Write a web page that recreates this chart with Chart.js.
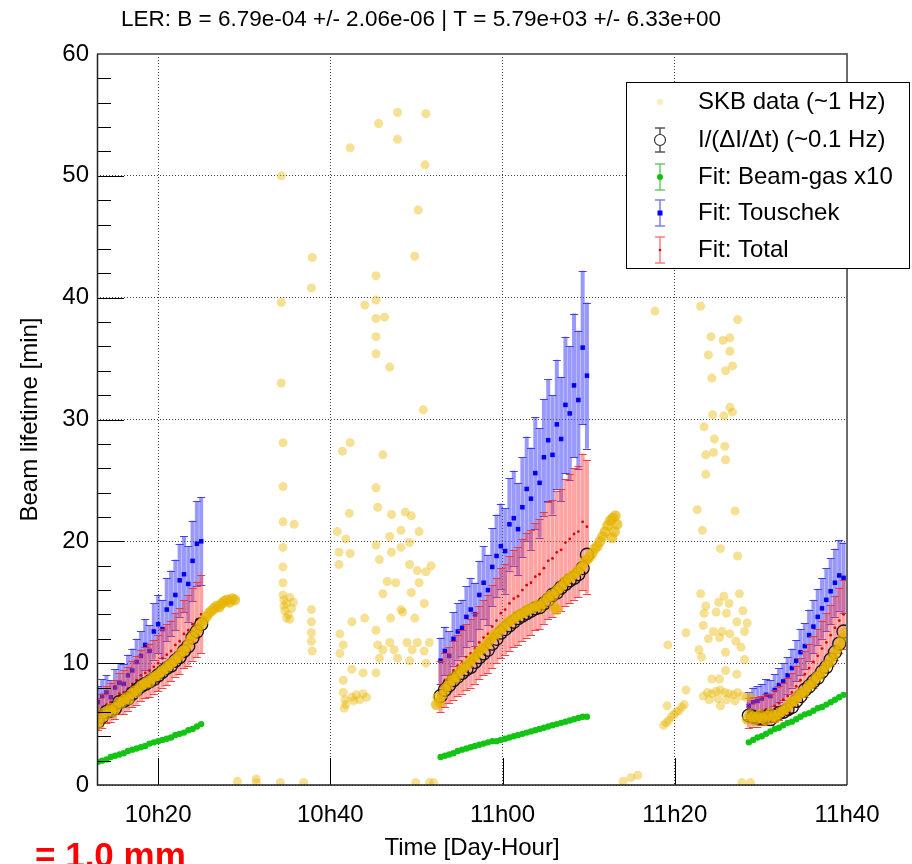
<!DOCTYPE html>
<html>
<head>
<meta charset="utf-8">
<script src="https://cdn.jsdelivr.net/npm/chart.js@4.4.1/dist/chart.umd.min.js"></script>
<style>
  html, body { margin: 0; padding: 0; background: #fff; }
  #wrap { width: 912px; height: 864px; position: relative; }
</style>
</head>
<body>
<div id="wrap"><canvas id="c"></canvas></div>
<script>
/* LER beam lifetime vs time — SKB data, measured lifetime and fit components */

const FONT = "'Liberation Sans', Arial, Helvetica, sans-serif";

// axis ticks (time in minutes after 10h00)
const xTickValues = [20, 40, 60, 80, 100];
const xTickLabels = ['10h20', '10h40', '11h00', '11h20', '11h40'];
const yTickValues = [0, 10, 20, 30, 40, 50, 60];

// fit / measurement samples, three fill periods
const fitTime = [
  13.0,13.5,14.0,14.5,15.0,15.5,16.0,16.5,17.0,17.5,18.0,18.5,19.0,19.5,20.0,20.5,21.0,21.5,22.0,22.5,23.0,23.5,24.0,24.5,25.0,
  52.8,53.3,53.8,54.3,54.8,55.3,55.8,56.3,56.8,57.3,57.8,58.3,58.8,59.3,59.8,60.3,60.8,61.3,61.8,62.3,62.8,63.3,63.8,64.3,64.8,65.3,65.8,66.3,66.8,67.3,67.8,68.3,68.8,69.3,69.8,
  88.6,89.1,89.6,90.1,90.6,91.1,91.6,92.1,92.6,93.1,93.6,94.1,94.6,95.1,95.6,96.1,96.6,97.1,97.6,98.1,98.6,99.1,99.6
];
const measLife = [
  5.2,5.6,6.0,6.1,6.3,6.8,6.9,7.1,7.5,7.8,8.1,8.3,8.5,8.7,9.0,9.3,9.6,9.8,10.2,10.5,11.0,11.4,12.1,12.6,13.2,
  7.3,7.8,8.2,8.6,8.9,9.2,9.5,9.7,10.1,10.5,10.8,11.1,11.6,12.0,12.5,12.8,13.1,13.4,13.7,13.9,14.1,14.3,14.5,14.6,14.9,15.2,15.6,15.8,16.2,16.5,16.8,17.0,17.3,17.8,18.9,
  5.7,5.6,5.5,5.5,5.6,5.4,5.7,5.9,6.0,6.2,6.4,6.9,7.3,7.8,8.1,8.5,8.8,9.3,9.7,10.3,10.9,11.6,12.6
];
const gasX10 = [
  1.9,2.0,2.1,2.3,2.4,2.5,2.6,2.8,2.9,3.0,3.1,3.2,3.4,3.5,3.6,3.7,3.8,3.9,4.1,4.2,4.3,4.5,4.6,4.8,5.0,
  2.3,2.4,2.5,2.6,2.8,2.9,3.0,3.1,3.2,3.3,3.4,3.5,3.6,3.6,3.7,3.8,3.9,4.0,4.1,4.2,4.3,4.4,4.5,4.6,4.7,4.8,4.9,5.0,5.1,5.2,5.3,5.4,5.5,5.6,5.6,
  3.5,3.7,3.9,4.0,4.2,4.4,4.6,4.7,4.9,5.1,5.2,5.4,5.6,5.8,5.9,6.1,6.3,6.4,6.6,6.8,7.0,7.2,7.4
];
const touschek = [
  6.8,7.3,7.6,7.2,8.0,8.4,8.3,9.0,9.4,10.1,10.6,11.5,11.0,12.6,13.2,12.8,14.4,14.9,15.6,16.8,17.3,16.5,18.4,19.8,20.0,
  10.2,11.0,10.6,12.0,12.6,12.9,13.8,14.4,14.0,15.6,16.6,16.0,17.9,18.8,19.6,19.2,21.4,21.9,21.0,22.8,24.3,23.5,25.6,24.8,26.9,28.3,27.1,29.6,28.4,31.2,30.5,32.8,31.6,35.9,33.6,
  6.5,6.8,6.9,7.1,7.4,7.3,7.8,8.2,8.5,9.0,9.6,10.2,10.9,11.4,12.3,13.0,13.8,14.5,15.2,15.9,16.6,17.2,17.0
];
const touschekErr = [
  1.3,1.4,1.4,1.4,1.5,1.6,1.6,1.7,1.8,1.9,2.0,2.1,2.1,2.3,2.4,2.4,2.6,2.7,2.9,3.0,3.1,3.1,3.3,3.5,3.6,
  1.9,2.0,2.0,2.2,2.3,2.3,2.5,2.6,2.6,2.8,3.0,2.9,3.2,3.4,3.5,3.5,3.8,3.9,3.8,4.1,4.3,4.2,4.6,4.5,4.8,5.0,4.9,5.3,5.1,5.6,5.5,5.9,5.7,6.3,6.0,
  1.1,1.2,1.2,1.2,1.3,1.3,1.3,1.4,1.5,1.5,1.6,1.7,1.9,1.9,2.1,2.2,2.3,2.5,2.6,2.7,2.8,2.9,2.9
];
const total = [
  5.8,6.1,6.6,6.8,7.0,7.5,7.6,7.9,8.3,8.6,9.0,9.2,9.4,9.7,10.0,10.4,10.7,11.0,11.5,11.8,12.4,12.7,13.2,13.6,14.0,
  8.1,8.6,9.0,9.4,9.8,10.1,10.5,10.8,11.2,11.7,12.1,12.4,13.0,13.5,14.1,14.4,14.9,15.3,15.5,16.0,16.4,16.6,17.1,17.3,17.8,18.4,18.6,19.1,19.3,19.9,20.2,20.6,20.8,21.6,21.2,
  5.9,6.0,6.0,6.1,6.2,6.2,6.5,6.7,7.0,7.3,7.6,8.1,8.6,9.1,9.6,10.1,10.6,11.2,11.7,12.3,12.9,13.5,14.0
];
const totalErr = [
  1.3,1.4,1.5,1.6,1.6,1.7,1.8,1.8,1.9,2.0,2.1,2.1,2.2,2.2,2.3,2.4,2.5,2.5,2.6,2.7,2.8,2.9,3.0,3.1,3.2,
  2.1,2.2,2.3,2.4,2.5,2.6,2.7,2.8,2.9,3.0,3.1,3.2,3.4,3.5,3.7,3.7,3.9,4.0,4.0,4.2,4.3,4.3,4.4,4.5,4.6,4.8,4.8,5.0,5.0,5.2,5.3,5.4,5.4,5.6,5.5,
  1.2,1.2,1.2,1.2,1.3,1.3,1.3,1.4,1.4,1.5,1.6,1.7,1.8,1.9,2.0,2.1,2.2,2.3,2.4,2.5,2.6,2.7,2.8
];

// SKB 1 Hz data: dense runs during decay, [time, lifetime]
const skbRun1 = [
  [13.0,5.0],[13.3,5.4],[13.6,5.9],[13.9,5.7],[14.2,6.1],[14.5,6.3],[14.8,6.0],[15.1,6.4],[15.4,6.8],[15.7,6.7],
  [16.0,7.0],[16.3,7.2],[16.6,7.0],[16.9,7.5],[17.2,7.7],[17.5,7.6],[17.8,8.0],[18.1,8.2],[18.4,8.3],[18.7,8.5],
  [19.0,8.4],[19.3,8.8],[19.6,8.9],[19.9,9.0],[20.2,9.2],[20.5,9.4],[20.8,9.5],[21.1,9.8],[21.4,9.9],[21.7,10.1],
  [22.0,10.3],[22.3,10.5],[22.6,10.8],[22.9,11.0],[23.2,11.2],[23.5,11.6],[23.8,12.0],[24.1,12.3],[24.4,12.6],[24.7,12.9],
  [25.0,13.2],[25.3,13.5],[25.6,13.8],[25.9,14.1],[26.2,14.3],[26.5,14.5],[26.8,14.7],[27.1,14.6],[27.4,14.9],[27.7,15.1],
  [28.0,15.2],[28.3,15.0],[28.6,15.3],[28.9,15.2]
];
const skbRun2 = [
  [52.3,6.6],[52.5,7.2],[52.7,6.8],[53.0,7.4],[53.3,7.9],[53.6,8.1],[53.9,8.5],[54.2,8.8],[54.5,8.7],[54.8,9.1],
  [55.1,9.4],[55.4,9.5],[55.7,9.8],[56.0,9.9],[56.3,10.2],[56.6,10.4],[56.9,10.6],[57.2,10.9],[57.5,11.1],[57.8,11.3],
  [58.1,11.5],[58.4,11.8],[58.7,12.0],[59.0,12.3],[59.3,12.4],[59.6,12.6],[59.9,12.9],[60.2,13.0],[60.5,13.3],[60.8,13.4],
  [61.1,13.6],[61.4,13.7],[61.7,13.9],[62.0,14.0],[62.3,14.1],[62.6,14.2],[62.9,14.4],[63.2,14.5],[63.5,14.5],[63.8,14.7],
  [64.1,14.8],[64.4,14.6],[64.7,14.9],[65.0,15.2],[65.3,15.4],[65.6,15.6],[65.9,15.5],[66.0,14.6],[66.3,14.4],[66.2,15.9],
  [66.5,16.1],[66.8,16.3],[67.1,16.6],[67.4,16.8],[67.7,17.0],[68.0,17.1],[68.3,17.3],[68.6,17.5],[68.9,17.7],[69.2,17.9],
  [69.5,18.3],[69.8,18.5],[70.1,18.7],[70.4,19.0],[70.7,19.4],[71.0,19.6],[71.3,20.0],[71.6,20.4],[71.9,20.8],[72.2,21.3],
  [72.5,21.7],[72.8,21.9],[73.1,22.1],[73.3,21.4],[73.0,20.8],[72.7,20.3]
];
const skbRun3 = [
  [88.4,5.4],[88.7,5.8],[89.0,5.6],[89.3,5.3],[89.6,5.6],[89.9,5.8],[90.2,5.5],[90.5,5.3],[90.8,5.7],[91.1,5.9],
  [91.4,5.6],[91.7,5.5],[92.0,5.8],[92.3,6.0],[92.6,6.1],[92.9,6.3],[93.2,6.5],[93.5,6.8],[93.8,6.9],[94.1,7.1],
  [94.4,7.4],[94.7,7.6],[95.0,7.6],[95.3,7.9],[95.6,8.2],[95.9,8.3],[96.2,8.6],[96.5,8.9],[96.8,9.0],[97.1,9.3],
  [97.4,9.6],[97.7,9.9],[98.0,10.1],[98.3,10.5],[98.6,10.8],[98.9,11.2],[99.2,11.6],[99.5,12.1],[99.8,12.6]
];
// SKB data during injection / unstable periods
const skbScatter = [
  [34.3,50.0],[37.9,43.3],[37.8,40.8],[34.3,39.6],[34.3,33.0],[34.5,28.1],[34.5,24.5],[34.5,21.6],[35.8,21.4],[34.5,19.5],
  [34.5,17.9],[34.5,16.6],[34.5,15.6],[34.6,15.2],[34.9,14.9],[35.3,15.4],[35.7,15.0],[34.7,14.3],[35.1,14.0],[35.5,14.5],
  [34.9,13.7],[35.3,13.6],[34.6,14.7],[37.8,14.4],[37.8,13.4],[37.8,12.5],[37.8,11.8],[37.9,11.0],
  [42.3,52.3],[45.6,54.3],[47.8,55.2],[47.8,53.0],[51.1,55.1],[51.0,50.9],[50.2,47.2],[49.8,43.4],[45.3,41.8],[45.3,39.8],
  [44.0,39.4],[45.3,38.3],[46.3,38.4],[45.3,36.8],[45.3,35.4],[46.9,34.3],[50.8,30.8],[41.4,27.4],[42.3,28.1],[46.1,27.1],
  [45.3,24.4],[45.5,22.8],[42.2,22.3],[47.1,22.2],[48.7,22.4],[49.4,22.1],[50.3,20.8],[40.8,20.8],[41.8,20.2],[48.2,20.9],
  [46.9,20.4],[45.3,19.7],[47.1,19.1],[48.2,19.5],[49.2,19.9],[41.0,19.1],[42.3,19.0],[45.7,18.5],[41.0,18.1],[49.2,18.1],
  [50.1,17.6],[51.7,18.0],[51.1,17.5],[46.6,16.7],[47.6,16.6],[50.3,16.6],[46.1,15.7],[49.4,15.8],[50.9,14.9],[48.2,14.4],
  [48.4,14.2],[47.0,13.7],[44.0,13.7],[42.5,13.4],[49.8,13.7],[41.1,12.4],[45.3,12.7],[41.5,11.5],[45.5,11.5],[46.9,11.7],
  [48.9,11.7],[50.1,11.7],[51.5,11.7],[46.1,11.1],[47.4,11.1],[49.5,11.1],[50.9,11.0],[41.1,10.8],[45.7,10.4],[47.8,10.4],
  [49.2,10.2],[51.1,10.0],[42.5,9.5],[43.8,9.2],[45.3,9.2],[41.5,8.6],
  [41.5,7.6],[41.7,7.0],[41.8,6.6],[42.5,7.2],[43.0,7.4],[43.4,7.0],[43.8,7.5],[44.2,7.2],[42.7,6.9],[41.6,6.3],
  [77.7,38.9],[83.0,39.3],[87.3,38.2],[84.2,36.8],[85.6,36.5],[86.4,36.7],[86.4,35.6],[83.9,35.3],[86.7,34.4],[85.9,34.0],
  [84.3,33.4],[86.4,31.0],[86.7,30.6],[84.4,30.4],[85.7,30.3],[83.4,29.4],[84.6,28.4],[85.8,27.8],[84.5,27.3],[83.6,27.1],
  [85.9,26.7],[83.6,25.5],[82.6,22.6],[87.0,22.5],[83.2,20.9],[85.3,19.4],[87.3,18.8],[83.0,15.7],[85.7,15.5],[87.5,15.7],
  [83.6,14.7],[85.1,15.0],[86.3,14.9],[87.9,14.3],[83.4,14.1],[84.8,14.2],[86.0,14.1],[87.2,13.4],[88.4,13.3],[83.3,13.1],
  [84.5,12.6],[85.5,12.6],[86.4,12.4],[88.1,12.6],[81.3,12.5],[83.9,12.0],[85.2,12.1],[87.1,11.8],[87.7,11.3],[82.8,11.1],
  [85.9,10.9],[83.1,10.5],[88.1,10.3],[79.2,11.5],[85.9,9.4],[87.2,9.1],[84.3,8.7],[85.2,8.7],[81.3,7.8],
  [83.3,7.3],[83.8,7.6],[84.3,7.5],[84.8,7.7],[85.3,7.8],[85.8,7.6],[86.3,7.5],[86.8,7.4],[87.3,7.6],[87.8,7.3],
  [88.3,7.2],[88.8,7.3],[84.0,7.0],[85.0,7.1],[86.0,7.0],[87.0,6.9],[85.3,6.5],[79.1,6.5],
  [78.7,4.9],[79.0,5.1],[79.3,5.3],[79.6,5.6],[79.9,5.8],[80.2,6.0],[80.5,6.1],[80.8,6.4],[81.1,6.6],
  [29.2,0.3],[31.4,0.5],[31.4,0.2],[34.2,0.2],[36.9,0.2],[49.9,0.2],[51.5,0.2],[52.0,0.2],
  [74.0,0.3],[74.9,0.6],[75.7,0.8],[87.8,0.2],[88.8,0.2]
];

const pts = arr => arr.map(p => ({ x: p[0], y: p[1] }));
const fitPts = vals => fitTime.map((t, i) => ({ x: t, y: vals[i] }));

// vertical error bars with caps, drawn under each dataset's markers
const errorBars = {
  id: 'errorBars',
  beforeDatasetDraw(chart, args) {
    const ds = chart.data.datasets[args.index];
    if (!ds.errors) return;
    const { ctx, chartArea: a, scales: { y } } = chart;
    ctx.save();
    ctx.beginPath();
    ctx.rect(a.left, a.top, a.right - a.left, a.bottom - a.top);
    ctx.clip();
    ctx.strokeStyle = ds.errorColor;
    ctx.lineWidth = 4;
    args.meta.data.forEach((pt, i) => {
      const v = ds.data[i].y, e = ds.errors[i];
      const top = y.getPixelForValue(v + e), bot = y.getPixelForValue(v - e);
      ctx.beginPath();
      ctx.moveTo(pt.x, top); ctx.lineTo(pt.x, bot);
      ctx.stroke();
    });
    ctx.strokeStyle = ds.capColor;
    ctx.lineWidth = 1;
    ctx.beginPath();
    args.meta.data.forEach((pt, i) => {
      const v = ds.data[i].y, e = ds.errors[i];
      const top = Math.round(y.getPixelForValue(v + e)) + 0.5, bot = Math.round(y.getPixelForValue(v - e)) + 0.5;
      ctx.moveTo(pt.x - 4, top); ctx.lineTo(pt.x + 4, top);
      ctx.moveTo(pt.x - 4, bot); ctx.lineTo(pt.x + 4, bot);
    });
    ctx.stroke();
    ctx.restore();
  }
};

// ROOT-like frame with inner tick marks
const frameTicks = {
  id: 'frameTicks',
  afterDatasetsDraw(chart) {
    const { ctx, chartArea: a, scales: { x, y } } = chart;
    ctx.save();
    ctx.strokeStyle = '#000';
    ctx.lineWidth = 1;
    ctx.beginPath();
    xTickValues.forEach(v => {
      const px = Math.round(x.getPixelForValue(v)) + 0.5;
      ctx.moveTo(px, a.bottom); ctx.lineTo(px, a.bottom - 27);
    });
    for (let v = 2; v < 60; v += 2) {
      const py = Math.round(y.getPixelForValue(v)) + 0.5;
      ctx.moveTo(a.left, py); ctx.lineTo(a.left + (v % 10 === 0 ? 27 : 14), py);
    }
    ctx.stroke();
    ctx.strokeStyle = '#6b6b6b';
    ctx.lineWidth = 2;
    ctx.beginPath();
    ctx.moveTo(a.left, a.top); ctx.lineTo(a.right, a.top); ctx.lineTo(a.right, a.bottom);
    ctx.stroke();
    ctx.strokeStyle = '#222';
    ctx.lineWidth = 1.5;
    ctx.beginPath();
    ctx.moveTo(a.left + 0.5, a.top); ctx.lineTo(a.left + 0.5, a.bottom); ctx.lineTo(a.right, a.bottom);
    ctx.stroke();
    ctx.restore();
  }
};

// legend box, title and annotation
const overlay = {
  id: 'overlay',
  afterDraw(chart) {
    const ctx = chart.ctx;
    ctx.save();
    ctx.fillStyle = '#fff';
    ctx.fillRect(626, 82, 283, 186);
    ctx.strokeStyle = '#000';
    ctx.lineWidth = 1;
    ctx.strokeRect(626.5, 82.5, 283, 186);

    const sx = 660;
    const bar = (cy, color, half) => {
      ctx.strokeStyle = color;
      ctx.lineWidth = 1.5;
      ctx.beginPath();
      ctx.moveTo(sx, cy - half); ctx.lineTo(sx, cy + half);
      ctx.moveTo(sx - 5, cy - half); ctx.lineTo(sx + 5, cy - half);
      ctx.moveTo(sx - 5, cy + half); ctx.lineTo(sx + 5, cy + half);
      ctx.stroke();
    };
    const rows = [102, 140, 177, 213, 250];
    // SKB
    ctx.fillStyle = 'rgba(232,182,0,0.25)';
    ctx.beginPath(); ctx.arc(sx, rows[0], 3, 0, Math.PI * 2); ctx.fill();
    // measured
    bar(rows[1], '#555', 12);
    ctx.fillStyle = '#fff';
    ctx.strokeStyle = '#333';
    ctx.lineWidth = 1.2;
    ctx.beginPath(); ctx.arc(sx, rows[1], 5.5, 0, Math.PI * 2); ctx.fill(); ctx.stroke();
    // beam-gas
    bar(rows[2], 'rgba(40,180,40,0.7)', 13);
    ctx.fillStyle = '#10c010';
    ctx.beginPath(); ctx.arc(sx, rows[2], 3, 0, Math.PI * 2); ctx.fill();
    // touschek
    bar(rows[3], 'rgba(70,70,255,0.7)', 13);
    ctx.fillStyle = '#0000ff';
    ctx.fillRect(sx - 2.5, rows[3] - 2.5, 5, 5);
    // total
    bar(rows[4], 'rgba(255,70,70,0.7)', 13);
    ctx.fillStyle = '#d00';
    ctx.beginPath(); ctx.arc(sx, rows[4], 1.3, 0, Math.PI * 2); ctx.fill();

    ctx.fillStyle = '#000';
    ctx.font = '24px ' + FONT;
    ctx.textBaseline = 'middle';
    ctx.textAlign = 'left';
    const names = chart.data.datasets.map(d => d.label);
    [names[0], names[2], names[3], names[5], names[4]].forEach((t, i) => ctx.fillText(t, 698, rows[i]));

    ctx.font = '22.5px ' + FONT;
    ctx.textAlign = 'center';
    ctx.fillText('LER: B = 6.79e-04 +/- 2.06e-06 | T = 5.79e+03 +/- 6.33e+00', 421, 20);

    ctx.fillStyle = '#ff0000';
    ctx.font = 'bold 35px ' + FONT;
    ctx.textAlign = 'left';
    ctx.textBaseline = 'alphabetic';
    ctx.fillText('= 1.0 mm', 35, 867);
    ctx.restore();
  }
};

new Chart(document.getElementById('c'), {
  type: 'scatter',
  data: {
    datasets: [
      { label: 'SKB data (~1 Hz)', data: pts(skbRun1.concat(skbRun2, skbRun3)), order: 0,
        pointRadius: 5.4, pointBackgroundColor: 'rgba(230,180,0,0.7)', pointBorderWidth: 0 },
      { label: 'SKB data (~1 Hz)', data: pts(skbScatter), order: 0,
        pointRadius: 4.5, pointBackgroundColor: 'rgba(232,182,0,0.42)', pointBorderWidth: 0 },
      { label: 'I/(\u0394I/\u0394t) (~0.1 Hz)', data: fitPts(measLife), order: 1,
        pointRadius: 6.5, pointBackgroundColor: 'rgba(0,0,0,0)', pointBorderColor: '#111', pointBorderWidth: 1.3 },
      { label: 'Fit: Beam-gas x10', data: fitPts(gasX10), order: 2,
        pointRadius: 3.2, pointBackgroundColor: '#14c414', pointBorderWidth: 0 },
      { label: 'Fit: Total', data: fitPts(total), order: 3, errors: totalErr,
        errorColor: 'rgba(255,70,70,0.5)', capColor: 'rgba(240,50,50,0.9)',
        pointRadius: 1.4, pointBackgroundColor: '#e00000', pointBorderWidth: 0 },
      { label: 'Fit: Touschek', data: fitPts(touschek), order: 4, errors: touschekErr,
        errorColor: 'rgba(70,70,250,0.55)', capColor: 'rgba(50,50,235,0.9)',
        pointStyle: 'rect', pointRadius: 3.2, pointBackgroundColor: '#0000ee', pointBorderWidth: 0 }
    ]
  },
  options: {
    responsive: true,
    maintainAspectRatio: false,
    animation: false,
    events: [],
    layout: { padding: { left: 0, top: 54, right: 65, bottom: 0 } },
    plugins: { legend: { display: false }, tooltip: { enabled: false } },
    scales: {
      x: {
        type: 'linear', min: 12.9, max: 100,
        afterBuildTicks: s => { s.ticks = xTickValues.map(v => ({ value: v })); },
        afterFit: s => { s.height = 79; },
        ticks: { autoSkip: false, maxRotation: 0, padding: 16, color: '#000',
                 font: { family: FONT, size: 24 }, callback: (v, i) => xTickLabels[i] },
        grid: { color: '#444', lineWidth: 1, drawTicks: false },
        border: { display: false, dash: [1, 2] },
        title: { display: true, text: 'Time [Day-Hour]', color: '#000',
                 font: { family: FONT, size: 24 }, padding: { top: 0, bottom: 1 } }
      },
      y: {
        type: 'linear', min: 0, max: 60,
        afterBuildTicks: s => { s.ticks = yTickValues.map(v => ({ value: v })); },
        afterFit: s => { s.width = 97; },
        ticks: { padding: 8, color: '#000', font: { family: FONT, size: 24 } },
        grid: { color: '#444', lineWidth: 1, drawTicks: false },
        border: { display: false, dash: [1, 2] },
        title: { display: true, text: 'Beam lifetime [min]', color: '#000',
                 font: { family: FONT, size: 24 }, padding: { top: 16, bottom: 0 } }
      }
    }
  },
  plugins: [errorBars, frameTicks, overlay]
});
</script>
</body>
</html>
